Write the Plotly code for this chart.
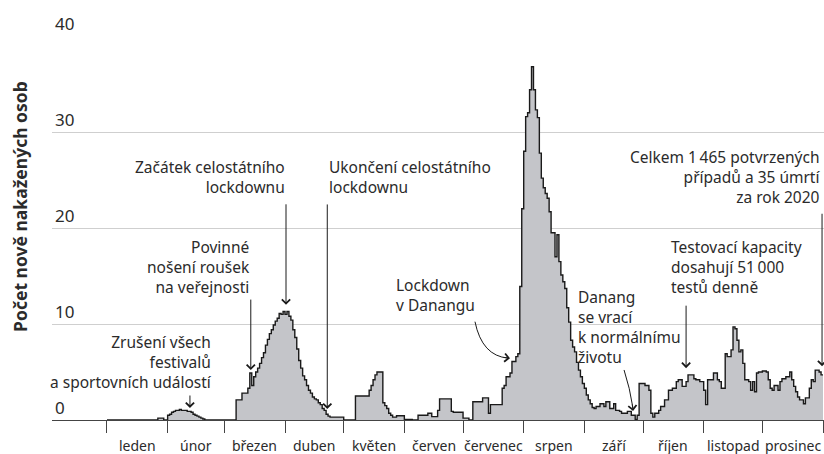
import plotly.graph_objects as go

# ---------------- data (7-day average of new cases) ----------------
month_names = ["leden", "únor", "březen", "duben", "květen", "červen",
               "červenec", "srpen", "září", "říjen", "listopad", "prosinec"]
month_days = [31, 29, 31, 30, 31, 30, 31, 31, 30, 31, 30, 31]

jan = [0] * 26 + [0.2, 0.2, 0.2, 0, 0]
feb = [0.5, 0.6, 0.8, 0.9, 1.0, 1.0, 1.1, 1.0, 1.0, 1.0, 0.9, 0.9, 0.8, 0.6, 0.5,
       0.4, 0.3, 0.2, 0.1] + [0] * 10
mar = [0] * 6 + [2.1, 2.1, 2.1, 2.8, 2.8, 2.8,
                 3.3, 4.9, 3.6, 4.5, 5.0, 5.4, 5.9, 6.5, 7.0, 7.8, 8.4, 9.0, 9.4,
                 9.9, 10.3, 10.6, 11.1, 11.0, 11.3]
apr = [11.0, 11.3, 10.8, 10.4, 9.4, 8.6, 7.4, 6.2, 5.4, 4.6, 4.2, 3.6, 3.1, 2.8,
       2.4, 2.2, 2.1, 1.8, 1.6, 1.2, 1.0, 0.6, 0.4, 0.3] + [0.3] * 6
may = [0] * 6 + [2.5] * 7 + [3.1, 3.6, 4.2, 4.7] + [5.0] * 3 + \
      [1.8, 1.5, 1.2, 0.7, 0.5] + [0.3] * 2 + [0.45] * 4
jun = [0.05] * 4 + [0] * 3 + [0.5] * 5 + [0.7] * 2 + [0.35] * 3 + [1.0] + \
      [2.2] * 6 + [0.9] + [0.8] * 5
jul = [0.2, 0.2, 0.2, 0, 0, 1.9, 1.9, 1.9, 1.9, 1.9, 2.3, 2.3, 2.3, 0.7,
       1.6, 1.6, 1.6, 1.6, 1.6, 1.6,
       3.3, 3.6, 4.5, 4.5, 4.9, 6.1, 6.1, 6.6, 6.9, 13.9, 22.0]
aug = [28.0, 31.6, 32.0, 34.4, 36.8, 34.4, 32.3, 31.5, 27.8, 25.2, 24.2, 23.6,
       23.1, 21.7, 19.5, 19.5, 17.0, 19.3, 16.5, 15.1, 14.4, 13.7, 11.7, 10.2,
       8.3, 7.6, 7.1, 6.0, 5.2, 4.5, 3.8]
sep = [3.3, 2.6, 2.1, 1.7, 1.3, 1.2, 1.4, 1.4, 1.7, 1.7, 1.4, 1.9, 1.9, 1.2,
       1.2, 1.7, 1.0, 1.0, 0.9, 0.7, 0.7, 0.7, 0.9, 0.9, 0.5, 0.5, 0.07, 0.5,
       3.8, 3.8]
oct_ = [3.8, 3.6, 3.6, 3.1, 0.7, 0.3, 0.7, 0.7, 1.0, 1.4, 1.4, 2.1, 2.1, 3.1,
        3.1, 3.3, 3.3, 4.0, 4.2, 4.2, 3.5, 3.5, 4.0, 4.7, 4.7, 4.7, 4.3, 4.2,
        4.2, 4.0, 4.0]
nov = [3.1, 1.6, 4.2, 4.2, 4.2, 4.9, 4.9, 4.2, 4.0, 3.3, 3.3, 6.9, 6.6, 6.6,
       7.3, 9.7, 9.5, 8.3, 7.1, 7.3, 5.9, 4.2, 4.2, 4.0, 3.1, 4.0, 2.95, 4.9,
       5.0, 5.0]
dec = [5.1, 5.1, 5.0, 4.2, 3.3, 3.1, 3.6, 3.6, 3.1, 4.0, 4.3, 4.3, 4.5, 4.5,
       5.0, 4.2, 3.5, 2.95, 2.4, 2.1, 2.1, 1.7, 2.3, 2.3, 3.3, 4.2, 4.0, 5.2,
       5.2, 5.0, 4.7]

y_ticks = [0, 10, 20, 30, 40]

monthly = [jan, feb, mar, apr, may, jun, jul, aug, sep, oct_, nov, dec]
for m, n in zip(monthly, month_days):
    assert len(m) == n, (len(m), n)

values = [v for m in monthly for v in m]
days = list(range(len(values)))
# extend the last step to the end of the year
days_plot = days + [len(values)]
values_plot = values + [values[-1]]

month_starts = [sum(month_days[:i]) for i in range(13)]
month_mids = [month_starts[i] + month_days[i] / 2 for i in range(12)]

FONT = "Noto Sans"
TXT = "#2b2b2b"
INK = "#1a1a1a"

fig = go.Figure()
fig.add_trace(go.Scatter(
    x=days_plot, y=values_plot, mode="lines",
    line=dict(shape="hv", color=INK, width=1.4),
    fill="tozeroy", fillcolor="#c4c5c9", hoverinfo="skip", showlegend=False,
))

annotations = []
# month labels
for name, mid in zip(month_names, month_mids):
    annotations.append(dict(x=mid, y=0, xref="x", yref="paper", text=name,
                            showarrow=False, yanchor="middle", yshift=-25,
                            font=dict(family=FONT, size=14, color=TXT)))

# y-axis title
annotations.append(dict(x=0, y=0.555, xref="paper", yref="paper",
                        text="<b>Počet nově nakažených osob</b>", textangle=-90,
                        showarrow=False, xanchor="center", yanchor="middle",
                        xshift=-32, font=dict(family=FONT, size=17.5, color=TXT)))

def label(x, y, text, align):
    annotations.append(dict(x=x, y=y, xref="x", yref="y", text=text,
                            showarrow=False, align=align, xanchor=align,
                            yanchor="middle",
                            font=dict(family=FONT, size=15.5, color=TXT)))

def arrow(x, y, ax, ay):
    annotations.append(dict(x=x, y=y, xref="x", yref="y", text="",
                            showarrow=True, ax=ax, ay=ay, arrowhead=4,
                            arrowsize=1.6, arrowwidth=1, arrowcolor=INK,
                            standoff=0, startstandoff=0))

label(54.7, 6.09, "Zrušení všech<br>festivalů<br>a sportovních událostí", "right")
arrow(42.4, 1.25, 0, -14)
label(74.1, 15.94, "Povinné<br>nošení roušek<br>na veřejnosti", "right")
arrow(73.5, 5.2, 0, -72)
label(91.8, 25.3, "Začátek celostátního<br>lockdownu", "right")
arrow(91.5, 12.0, 0, -102)
label(112.3, 25.3, "Ukončení celostátního<br>lockdownu", "left")
arrow(112.6, 1.15, 0, -206)
label(146.7, 12.97, "Lockdown<br>v Danangu", "left")
arrow(206.0, 6.43, -8, -1)
label(239.7, 9.64, "Danang<br>se vrací<br>k normálnímu<br>životu", "left")
arrow(268.9, 0.94, -1, -8)
label(287.3, 15.94, "Testovací kapacity<br>dosahují 51\u2009000<br>testů denně", "left")
arrow(296.0, 5.4, 0, -64)
label(365.5, 25.36, "Celkem 1\u2009465 potvrzených<br>případů a 35 úmrtí<br>za rok 2020", "right")
arrow(365.5, 5.6, 0, -154)

shapes = [
    dict(type="path", xref="x", yref="y",
         path="M 188.1,10.24 Q 191.7,6.67 205.0,6.45",
         line=dict(color=INK, width=1)),
    dict(type="path", xref="x", yref="y",
         path="M 264.3,5.21 Q 267.3,3.33 268.8,1.3",
         line=dict(color=INK, width=1)),
]

fig.update_layout(
    width=824, height=454,
    margin=dict(l=52, r=0, t=36, b=34),
    paper_bgcolor="white", plot_bgcolor="white",
    font=dict(family=FONT, color=TXT),
    showlegend=False,
    xaxis=dict(range=[-28.11, 366.5], showgrid=False, zeroline=False,
               showline=True, linecolor="#444444", linewidth=1.3,
               tickmode="array", tickvals=month_starts,
               ticktext=[""] * len(month_starts),
               ticks="outside", ticklen=12, tickwidth=1.2, tickcolor="#444444",
               fixedrange=True),
    yaxis=dict(range=[0, 40], tickmode="array", tickvals=y_ticks,
               ticktext=[str(v) for v in y_ticks],
               showgrid=True, gridcolor="#cfcfcf", gridwidth=1.2,
               zeroline=False, showline=False, ticks="",
               ticklabelposition="inside top", ticklabeloverflow="allow",
               tickfont=dict(family=FONT, size=17, color=TXT),
               fixedrange=True),
    annotations=annotations,
    shapes=shapes,
)

fig.write_html(
    "out.html",
    config={"displayModeBar": False},
    post_script="document.body.style.margin='0';document.body.style.overflow='hidden';",
)
